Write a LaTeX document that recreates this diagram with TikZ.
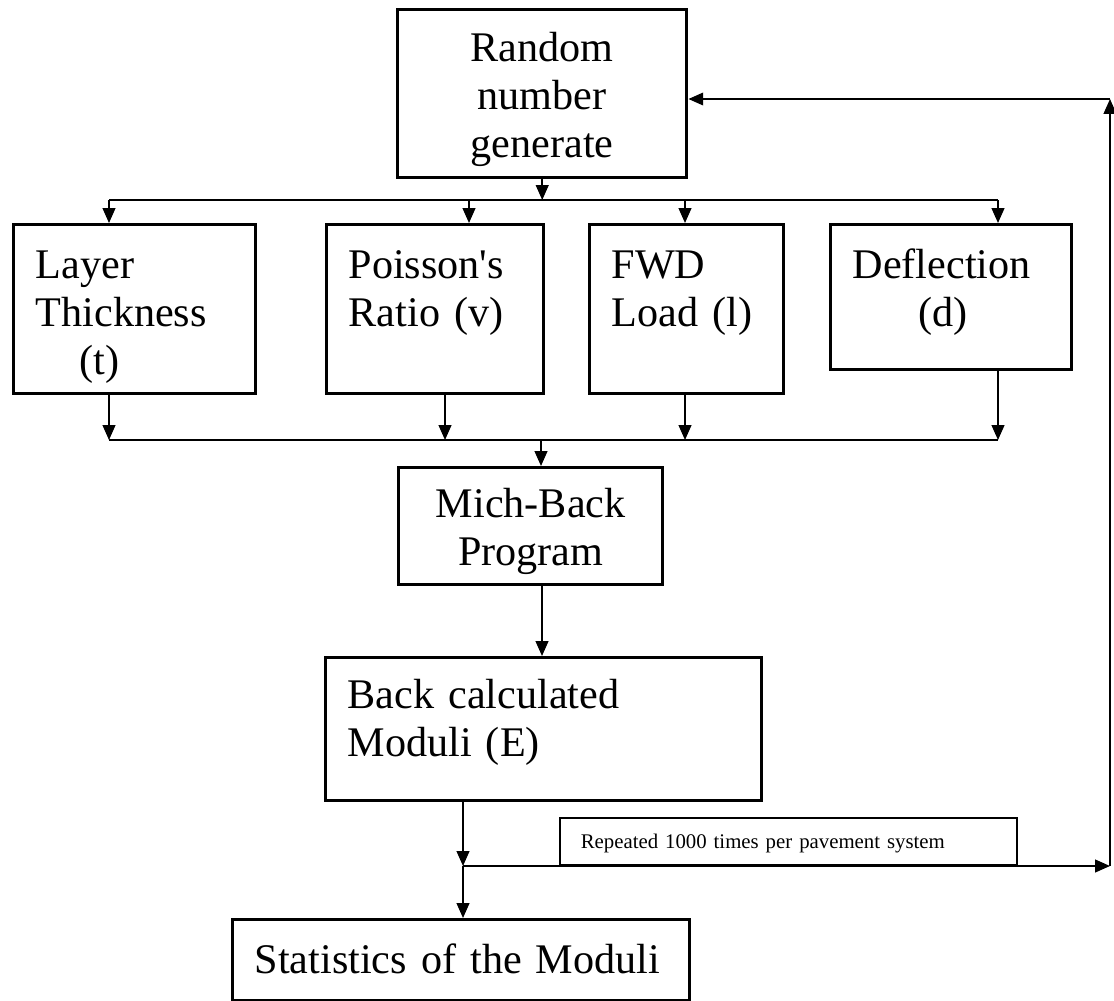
\documentclass[tikz,border=0pt]{standalone}
\usepackage{fontspec}
\setmainfont{Liberation Serif}
\usepackage{tikz}
\usetikzlibrary{arrows.meta,calc}

\newcommand{\bigtxt}{\fontsize{30}{34}\selectfont}
\newcommand{\smalltxt}{\fontsize{14.8}{18}\selectfont}

\tikzset{
  box/.style={draw, line width=2.4pt, anchor=north west, inner xsep=0.55cm,
    inner ysep=0pt, align=left, font=\bigtxt},
  cbox/.style={box, align=center},
  note/.style={draw, line width=1.1pt, anchor=north west, inner xsep=0.525cm,
    inner ysep=0pt, align=left, font=\smalltxt},
  arr/.style={-{Triangle[length=10.5pt,width=9pt]}, line width=1.2pt}
}

\begin{document}
\begin{tikzpicture}[x=0.025cm, y=-0.025cm]
  \useasboundingbox (0,0) rectangle (1114,1001);

  \node [cbox, text width=6.125cm, text height=1.3cm, text depth=2.9cm]
    (rand) at (396,8) {Random\\number\\generate};

  \node [box, text width=4.95cm, text height=1.35cm, text depth=2.875cm]
    (layer) at (12,223) {Layer\\Thickness\\\hspace*{1.1cm}(t)};
  \node [box, text width=4.325cm, text height=1.35cm, text depth=2.875cm]
    (poisson) at (325,223) {Poisson\textquotesingle s\\Ratio (v)};
  \node [box, text width=3.75cm, text height=1.35cm, text depth=2.875cm]
    (fwd) at (588,223) {FWD\\Load (l)};
  \node [box, text width=4.925cm, text height=1.35cm, text depth=2.275cm]
    (defl) at (829,223) {Deflection\\\hspace*{1.65cm}(d)};

  \node [cbox, text width=5.5cm, text height=1.25cm, text depth=1.675cm]
    (mich) at (397,466) {Mich-Back\\Program};
  \node [box, text width=9.8cm, text height=1.275cm, text depth=2.3cm]
    (back) at (324,656) {Back calculated\\Moduli (E)};
  \node [box, text width=10.325cm, text height=1.35cm, text depth=0.675cm]
    (stats) at (231,918) {Statistics of the Moduli};
  \node [note, text width=10.375cm, text height=0.775cm, text depth=0.4cm]
    (rep) at (559,817) {Repeated 1000 times per pavement system};

  \coordinate (t1) at (109,200);
  \coordinate (t2) at (469,200);
  \coordinate (t3) at (685,200);
  \coordinate (t4) at (998,200);
  \coordinate (b1) at (109,440);
  \coordinate (b2) at (445,440);
  \coordinate (b3) at (685,440);
  \coordinate (b4) at (998,440);
  \coordinate (bm) at (541,440);
  \coordinate (mb) at (542,0);
  \coordinate (j) at (463,866);
  \coordinate (r1) at (1110,866);
  \coordinate (r2) at (1110,99);

  \draw [arr] (rand.south) -- (rand.south |- t1);
  \draw [line width=1.2pt] (t1) -- (t4);
  \draw [arr] (t1) -- (t1 |- layer.north);
  \draw [arr] (t2) -- (t2 |- poisson.north);
  \draw [arr] (t3) -- (t3 |- fwd.north);
  \draw [arr] (t4) -- (t4 |- defl.north);

  \draw [arr] (b1 |- layer.south) -- (b1);
  \draw [arr] (b2 |- poisson.south) -- (b2);
  \draw [arr] (b3 |- fwd.south) -- (b3);
  \draw [arr] (b4 |- defl.south) -- (b4);
  \draw [line width=1.2pt] (b1) -- (b4);
  \draw [arr] (bm) -- (bm |- mich.north);

  \draw [arr] (mb |- mich.south) -- (mb |- back.north);
  \draw [arr] (j |- back.south) -- (j);
  \draw [arr] (j) -- (j |- stats.north);

  % loop back to the generator
  \draw [arr] (j) -- (r1);
  \draw [arr] (r1) -- (r2);
  \draw [arr] (r2) -- (rand.east |- r2);
\end{tikzpicture}
\end{document}
